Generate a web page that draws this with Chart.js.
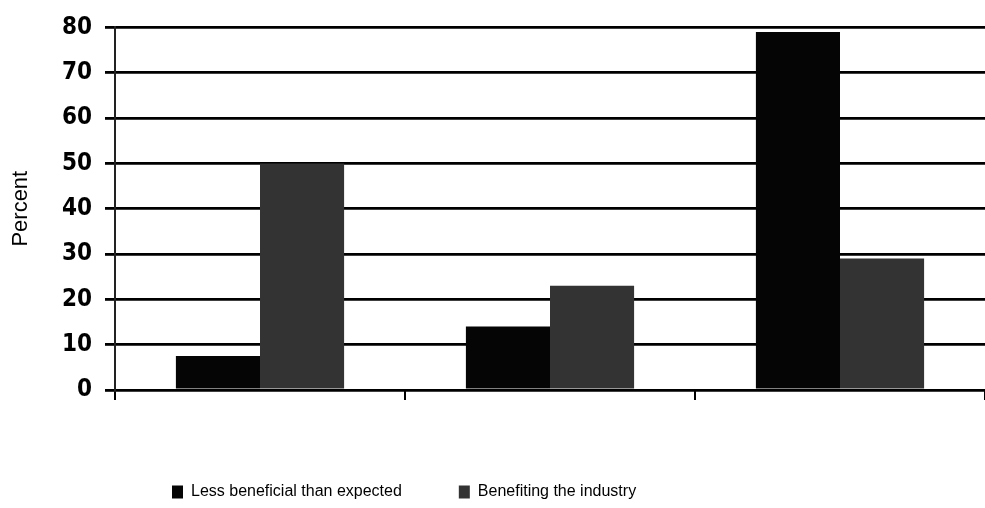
<!DOCTYPE html>
<html>
<head>
<meta charset="utf-8">
<script src="https://cdn.jsdelivr.net/npm/chart.js@4/dist/chart.umd.min.js"></script>
<style>
  html, body { margin: 0; padding: 0; background: #ffffff; }
  #wrap { width: 985px; height: 508px; position: relative; }
</style>
</head>
<body>
<div id="wrap"><canvas id="c"></canvas></div>
<script>
const categories = ['', '', ''];
const seriesNames = ['Less beneficial than expected', 'Benefiting the industry'];
const lessBeneficial = [7.5, 14, 79];
const benefiting = [50, 23, 29];
const yTicks = [0, 10, 20, 30, 40, 50, 60, 70, 80];

const legendShift = {
  id: 'legendShift',
  afterLayout(chart) {
    const lg = chart.legend;
    if (!lg) return;
    const pad = lg.options.labels.padding;
    const w = lg.right - lg.left;
    lg.left = 172 - pad;
    lg.right = lg.left + w;
    lg.top = 492 - 8 - pad;
    lg.bottom = 508;
    lg.height = lg.bottom - lg.top;
  }
};

new Chart(document.getElementById('c'), {
  type: 'bar',
  data: {
    labels: categories,
    datasets: [
      {
        label: seriesNames[0],
        data: lessBeneficial,
        backgroundColor: '#050505',
        borderColor: '#050505',
        borderWidth: 0
      },
      {
        label: seriesNames[1],
        data: benefiting,
        backgroundColor: '#333333',
        borderColor: '#333333',
        borderWidth: 0
      }
    ]
  },
  plugins: [legendShift],
  options: {
    responsive: true,
    maintainAspectRatio: false,
    animation: false,
    layout: { padding: { top: -2, right: 0, bottom: 0, left: 0 } },
    datasets: { bar: { categoryPercentage: 0.58, barPercentage: 1.0 } },
    plugins: {
      tooltip: { enabled: false },
      legend: {
        position: 'bottom',
        align: 'start',
        maxHeight: 40,
        labels: {
          color: '#000000',
          font: { family: '"Liberation Sans", Arial, sans-serif', size: 16 },
          boxWidth: 11,
          boxHeight: 13,
          padding: 57
        }
      }
    },
    scales: {
      x: {
        grid: {
          display: true,
          drawOnChartArea: false,
          drawTicks: true,
          tickLength: 10,
          offset: true,
          color: '#000000',
          lineWidth: 2
        },
        border: { display: true, color: '#000000', width: 2 },
        ticks: { display: true, padding: 0, font: { size: 1 } },
        afterFit(scale) { scale.height = 78; }
      },
      y: {
        min: 0,
        max: 80,
        afterBuildTicks(scale) { scale.ticks = yTicks.map(v => ({ value: v })); },
        grid: {
          color: '#000000',
          lineWidth: 2.8,
          drawTicks: true,
          tickLength: 10
        },
        border: { display: true, color: '#222222', width: 2 },
        ticks: {
          color: '#000000',
          padding: 13,
          font: { family: '"DejaVu Sans Condensed", "DejaVu Sans", sans-serif', size: 24, weight: 'bold' }
        },
        title: {
          display: true,
          text: 'Percent',
          color: '#000000',
          padding: { top: 8, bottom: 0 },
          font: { family: '"Liberation Sans", Arial, sans-serif', size: 22 }
        },
        afterFit(scale) { scale.width = 115; }
      }
    }
  }
});
</script>
</body>
</html>
